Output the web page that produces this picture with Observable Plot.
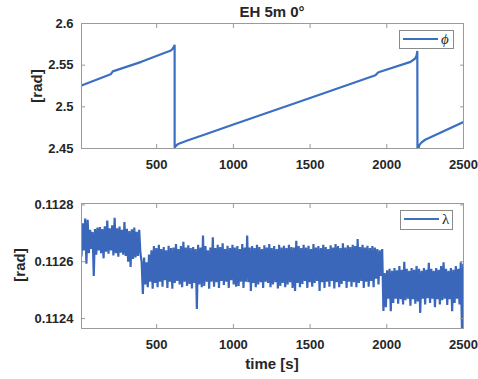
<!DOCTYPE html>
<html><head><meta charset="utf-8">
<script src="https://cdn.jsdelivr.net/npm/d3@7"></script>
<script src="https://cdn.jsdelivr.net/npm/@observablehq/plot@0.6"></script>
<style>
body{margin:0;background:#fff;}
#fig{position:relative;width:478px;height:379px;font-family:"Liberation Sans",Arial,sans-serif;font-weight:bold;color:#262626;overflow:hidden;background:#fff}
#fig svg{position:absolute;left:0}
.abs{position:absolute;white-space:nowrap;line-height:1.15}
.title{left:272px;top:3px;transform:translateX(-50%);font-size:15px}
.ylab{transform:translate(-50%,-50%) rotate(-90deg);font-size:15px}
.xlab{left:272px;top:355px;transform:translateX(-50%);font-size:15px}
.legend{position:absolute;border:1px solid #8a8a8a;background:#fff;box-sizing:border-box}
.legend .ln{position:absolute;height:0;border-top:2.5px solid #3b6fc2}
.legend .sym{position:absolute;font-family:"Liberation Serif","DejaVu Serif",serif;font-weight:normal;font-size:15px;line-height:17px;color:#262626}
</style></head><body><div id="fig"></div>
<script>
const titleText = "EH 5m 0°";
const yLabel = "[rad]";
const xLabel = "time [s]";
const xDomain = [10, 2500];
const xTicks = [500, 1000, 1500, 2000, 2500];
const phiTicks = [2.45, 2.5, 2.55, 2.6];
const phiDomain = [2.45, 2.6];
const lamTicks = [0.1124, 0.1126, 0.1128];
const lamDomain = [0.112365, 0.112805];

// phi (top panel) breakpoints
const phiT = [10, 200, 206, 214, 400, 558, 590, 603, 612, 617, 617, 622, 640, 700, 819, 1000, 1500, 1926, 1934, 1946, 2155, 2185, 2195, 2199, 2200, 2204, 2212, 2225, 2250, 2500];
const phiV = [2.5255, 2.539, 2.5405, 2.5425, 2.554, 2.5652, 2.5672, 2.5694, 2.5718, 2.5745, 2.451, 2.4525, 2.4555, 2.4595, 2.467, 2.4787, 2.5107, 2.5378, 2.5395, 2.5415, 2.554, 2.558, 2.562, 2.567, 2.44, 2.448, 2.454, 2.457, 2.4605, 2.4817];

// lambda (bottom panel), sampled every 8 s starting at 10 s
const lamStart = 10, lamStep = 8;
const lamV = [
0.112620,0.112735,0.112640,0.112752,0.112593,0.112748,0.112630,0.112712,0.112645,0.112705,
0.112550,0.112715,0.112625,0.112720,0.112640,0.112722,0.112630,0.112715,0.112612,0.112725,
0.112635,0.112745,0.112628,0.112718,0.112640,0.112728,0.112622,0.112755,0.112630,0.112718,
0.112618,0.112724,0.112632,0.112712,0.112625,0.112740,0.112620,0.112716,0.112600,0.112708,
0.112582,0.112714,0.112610,0.112720,0.112615,0.112705,0.112620,0.112712,0.112630,
0.112600,0.112487,0.112615,0.112520,0.112598,0.112510,0.112625,0.112530,0.112640,0.112505,
0.112655,0.112525,0.112648,0.112510,0.112660,0.112530,0.112645,0.112512,0.112652,0.112535,
0.112640,0.112508,0.112656,0.112530,0.112648,0.112505,0.112650,0.112525,0.112662,0.112532,
0.112645,0.112520,0.112655,0.112510,0.112670,0.112530,0.112650,0.112515,0.112658,0.112522,
0.112648,0.112506,0.112652,0.112525,0.112645,0.112434,0.112660,0.112520,0.112650,0.112510,
0.112692,0.112515,0.112655,0.112530,0.112640,0.112505,0.112650,0.112530,0.112686,0.112512,
0.112648,0.112528,0.112660,0.112508,0.112652,0.112532,0.112665,0.112518,0.112645,0.112530,
0.112656,0.112508,0.112648,0.112535,0.112660,0.112520,0.112650,0.112512,0.112655,0.112515,
0.112645,0.112530,0.112662,0.112508,0.112650,0.112530,0.112692,0.112528,0.112650,0.112497,
0.112655,0.112525,0.112648,0.112510,0.112660,0.112520,0.112652,0.112528,0.112645,0.112508,
0.112658,0.112530,0.112650,0.112525,0.112662,0.112510,0.112648,0.112520,0.112655,0.112528,
0.112645,0.112506,0.112660,0.112515,0.112650,0.112525,0.112656,0.112510,0.112648,0.112520,
0.112660,0.112528,0.112652,0.112508,0.112650,0.112497,0.112674,0.112525,0.112655,0.112510,
0.112648,0.112522,0.112660,0.112532,0.112650,0.112508,0.112656,0.112528,0.112645,0.112512,
0.112662,0.112525,0.112650,0.112532,0.112655,0.112497,0.112648,0.112528,0.112660,0.112508,
0.112652,0.112530,0.112645,0.112512,0.112658,0.112532,0.112650,0.112506,0.112662,0.112528,
0.112655,0.112510,0.112648,0.112522,0.112665,0.112532,0.112650,0.112508,0.112658,0.112530,
0.112652,0.112512,0.112660,0.112528,0.112655,0.112510,0.112680,0.112525,0.112652,0.112532,
0.112660,0.112508,0.112650,0.112530,0.112656,0.112512,0.112648,0.112532,0.112655,0.112510,
0.112650,0.112540,0.112645,0.112520,0.112640,0.112550,0.112645,
0.112427,0.112560,0.112440,0.112570,0.112470,0.112575,0.112426,0.112568,0.112455,0.112578,
0.112470,0.112570,0.112452,0.112585,0.112468,0.112572,0.112450,0.112600,0.112465,0.112575,
0.112470,0.112568,0.112445,0.112578,0.112468,0.112572,0.112452,0.112585,0.112460,0.112575,
0.112420,0.112568,0.112470,0.112578,0.112450,0.112572,0.112472,0.112596,0.112455,0.112575,
0.112470,0.112568,0.112440,0.112578,0.112468,0.112572,0.112450,0.112585,0.112465,0.112598,
0.112470,0.112575,0.112448,0.112568,0.112468,0.112578,0.112426,0.112572,0.112455,0.112585,
0.112470,0.112575,0.112450,0.112598,0.112360,0.112590
];

const lineColor = "#3b6fc2";
const bandColor = "#3a67ba";
const frameColor = "#9a9a9a";

const phiData = phiT.map((t, i) => ({t, v: phiV[i]}));
const lamData = lamV.map((v, i) => ({t: lamStart + i * lamStep, v}));

function panel({height, marginTop, marginBottom, yDomain, yTicks, data, stroke, strokeWidth}) {
  return Plot.plot({
    width: 478, height, marginLeft: 81, marginRight: 15, marginTop, marginBottom,
    style: {fontFamily: "'Liberation Sans', Arial, sans-serif", fontSize: "13px", fontWeight: "bold", color: "#262626", background: "transparent", overflow: "visible"},
    x: {domain: xDomain},
    y: {domain: yDomain},
    marks: [
      Plot.line(data, {x: "t", y: "v", stroke, strokeWidth, strokeLinejoin: "miter", clip: true}),
      Plot.frame({stroke: frameColor}),
      Plot.axisX({ticks: xTicks, anchor: "bottom", tickSize: 0, tickPadding: 11, tickFormat: d3.format("d"), label: null}),
      Plot.axisX({ticks: xTicks, anchor: "bottom", tickSize: -4, tickFormat: () => "", label: null, stroke: frameColor}),
      Plot.axisX({ticks: xTicks, anchor: "top", tickSize: -4, tickFormat: () => "", label: null, stroke: frameColor}),
      Plot.axisY({ticks: yTicks, anchor: "left", tickSize: 0, tickPadding: 8, tickFormat: d3.format("~g"), label: null}),
      Plot.axisY({ticks: yTicks, anchor: "left", tickSize: -4, tickFormat: () => "", label: null, stroke: frameColor}),
      Plot.axisY({ticks: yTicks, anchor: "right", tickSize: -4, tickFormat: () => "", label: null, stroke: frameColor})
    ]
  });
}

const fig = document.getElementById("fig");
const top1 = panel({height: 180, marginTop: 23, marginBottom: 32, yDomain: phiDomain, yTicks: phiTicks, data: phiData, stroke: lineColor, strokeWidth: 2.2});
top1.style.top = "0px";
fig.appendChild(top1);
const bot = panel({height: 199, marginTop: 23, marginBottom: 51, yDomain: lamDomain, yTicks: lamTicks, data: lamData, stroke: bandColor, strokeWidth: 2.2});
bot.style.top = "180px";
fig.appendChild(bot);

function addDiv(cls, text, css) {
  const d = document.createElement("div");
  d.className = cls;
  if (text != null) d.textContent = text;
  Object.assign(d.style, css || {});
  fig.appendChild(d);
  return d;
}
addDiv("abs title", titleText);
addDiv("abs ylab", yLabel, {left: "36.5px", top: "86px"});
addDiv("abs ylab", yLabel, {left: "19.5px", top: "265px"});
addDiv("abs xlab", xLabel);

function legend(left, top, w, h, sym, italic) {
  const lg = addDiv("legend", null, {left: left + "px", top: top + "px", width: w + "px", height: h + "px"});
  const ln = document.createElement("div");
  ln.className = "ln";
  Object.assign(ln.style, {left: "3px", width: "35px", top: (h / 2 - 2.3) + "px"});
  lg.appendChild(ln);
  const s = document.createElement("div");
  s.className = "sym";
  s.textContent = sym;
  Object.assign(s.style, {left: "41px", top: (h / 2 - 9.5) + "px", fontStyle: italic ? "italic" : "normal"});
  lg.appendChild(s);
}
legend(399, 30, 55, 18.5, "ϕ", true);
legend(400, 210, 53, 19.5, "λ", false);
</script></body></html>
